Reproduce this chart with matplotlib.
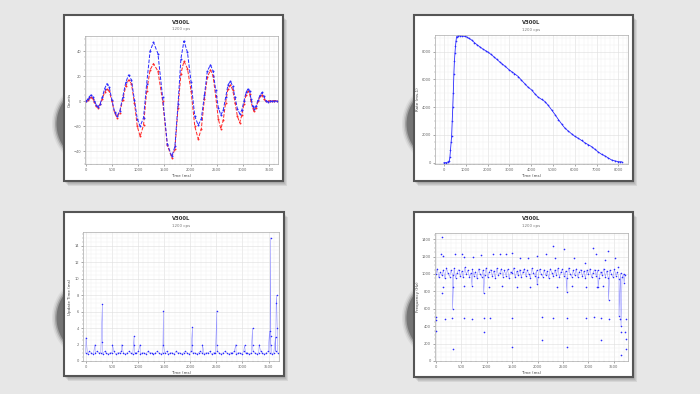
import numpy as np
import matplotlib.pyplot as plt
from matplotlib.patches import Rectangle, Circle
from matplotlib.ticker import MultipleLocator, AutoMinorLocator

# ---- panel 1: counts vs time ----
wave_t = [0, 30, 60, 95, 130, 160, 195, 228, 270, 310, 355, 400, 445, 495, 545, 590,
          645, 700, 760, 813, 868, 925, 980, 1035, 1100, 1160, 1225, 1290, 1375, 1465,
          1555, 1640, 1700, 1760, 1815, 1873, 1940, 2010, 2080, 2146, 2205, 2265, 2320,
          2380, 2430, 2480, 2530, 2578, 2625, 2670, 2715, 2762, 2805, 2850, 2895, 2940,
          2980, 3020, 3060, 3100, 3130, 3155, 3185, 3213, 3250, 3290, 3330, 3366, 3400,
          3440, 3480, 3520, 3560, 3600, 3650]
wave_blue = [0, 1.5, 3.5, 5, 3.5, 0.5, -3, -4.5, -2, 3, 10, 14, 11, 1, -8.5, -12,
             -8, 3, 15, 21, 17, 1, -14, -20, -13, 14, 40, 47, 38, 3,
             -34, -44, -36, -2, 34, 48, 39, 15, -12, -19, -14, 5, 24,
             29, 24, 9, -5, -11, -7, 3, 13, 16, 12, 3, -6, -10,
             -7, 0, 7, 10, 8, 2, -3.5, -6, -4, 1, 5, 7, 4,
             0.5, -0.5, 0, 0, 0.5, 0]
wave_red = [0, 1, 2.5, 3, 2, -0.5, -4, -5, -2.5, 2, 7, 10, 8, 0, -9, -13,
            -9, 1, 12, 17, 14, -1, -20, -28, -19, 8, 25, 30, 24, 0,
            -35, -45, -38, -5, 22, 32, 26, 8, -20, -30, -22, 2, 19,
            25, 20, 4, -14, -22, -15, -1, 10, 13, 9, -1, -12, -17,
            -11, -2, 5, 8, 6, 0, -5, -8, -5, 0, 4, 5, 2,
            0, 0, 0.5, 0.5, 0.5, 0.5]

# ---- panel 2: rate vs time ----
rate_t = [0, 100, 200, 250, 275, 300, 330, 352, 380, 405, 428, 455, 480, 505, 530, 555,
          581, 650, 750, 850, 950, 1040, 1150, 1269, 1400, 1530, 1660, 1790, 1910, 2034,
          2160, 2290, 2420, 2550, 2680, 2800, 2997, 3100, 3230, 3410, 3550, 3700, 3850,
          4021, 4170, 4327, 4480, 4633, 4780, 4939, 5100, 5250, 5400, 5550, 5700, 5850,
          6000, 6162, 6310, 6470, 6620, 6774, 6930, 7080, 7230, 7385, 7540, 7691, 7850,
          7997, 8080, 8150]
rate_v = [0, 0, 60, 150, 430, 900, 1500, 1900, 3000, 4000, 5000, 6400, 7300, 7900, 8400, 8800,
          9080, 9150, 9140, 9120, 9100, 9060, 8950, 8840, 8650, 8480, 8330, 8180, 8070, 7950,
          7800, 7630, 7450, 7270, 7100, 6950, 6680, 6560, 6420, 6200, 5950, 5700, 5450,
          5240, 4960, 4710, 4560, 4400, 4130, 3800, 3450, 3100, 2780, 2480, 2280, 2080,
          1900, 1750, 1600, 1420, 1290, 1150, 950, 760, 600, 480, 330, 190, 120,
          70, 60, 60]

# ---- panel 3: update time ----
upd_base = [1.0, 0.83, 1.17, 1.0, 0.83, 1.0, 1.17, 1.0, 1.0, 0.83,
            1.17, 1.0, 0.83, 1.0, 1.0, 1.17, 0.83, 1.0, 1.0, 1.17,
            1.0, 0.83, 1.0, 1.17, 1.0, 0.83, 1.0, 1.0, 1.17, 0.83,
            1.0, 1.0, 0.83, 1.17, 1.0, 1.0, 0.83, 1.0, 1.17, 1.0,
            0.83, 1.0, 1.0, 1.17, 0.83, 1.0, 1.0, 0.83, 1.17, 1.0,
            1.0, 0.83, 1.0, 1.17, 1.0, 0.83, 1.17, 1.0, 1.0, 0.83,
            1.0, 1.17, 1.0, 0.83, 1.0, 1.0, 1.17, 0.83, 1.0, 1.0,
            1.17, 1.0, 0.83, 1.0, 1.17, 1.0, 0.83, 1.0, 1.0, 1.17,
            0.83, 1.0, 1.0, 0.83, 1.17, 1.0, 1.0, 0.83, 1.0, 1.17,
            1.0, 0.83, 1.0, 1.17, 1.0, 0.83, 1.0, 1.17, 1.0, 0.83,
            1.0, 1.17, 1.0]
upd_base_t = np.arange(len(upd_base)) * 36
upd_spk_t = [6, 179, 319, 319, 511, 690, 926, 926, 1041, 1488, 1488, 2043, 2043, 2235,
             2510, 2510, 2874, 3040, 3193, 3193, 3321, 3519, 3538, 3544, 3544, 3634,
             3646, 3653, 3666]
upd_spk_v = [2.85, 2.0, 6.9, 2.3, 2.0, 2.0, 3.0, 2.0, 2.0, 6.1, 2.0, 4.1, 1.9, 2.0,
             6.1, 2.0, 2.0, 1.9, 4.0, 1.9, 2.0, 3.6, 15.0, 3.0, 2.0, 2.9,
             7.0, 8.0, 4.0]

# ---- panel 4: frequency ----
freq_band = [1000, 1060, 960, 1020, 985, 1045, 950, 1070, 1005, 970,
             1040, 990, 1065, 955, 1015, 1050, 975, 1030, 960, 1075,
             995, 1040, 965, 1010, 1055, 980, 1025, 950, 1060, 1000,
             970, 1045, 985, 1070, 960, 1020, 1050, 975, 1035, 955,
             1065, 990, 1015, 1060, 970, 1040, 980, 1055, 950, 1025,
             1005, 1070, 960, 1030, 985, 1050, 965, 1020, 1060, 975,
             1045, 995, 955, 1065, 1010, 980, 1040, 960, 1055, 1000,
             970, 1050, 985, 1030, 950, 1060, 1015, 975, 1045, 990,
             1065, 960, 1025, 1055, 980, 1035, 955, 1070, 1000, 970,
             1040, 985, 1060, 965, 1020, 1050, 975, 1030, 950, 1045,
             995, 1060, 960, 1015, 1050, 980, 1040, 955, 1025, 990,
             1060, 970, 1035, 950, 1045, 1000, 965, 1055, 980, 1020,
             940, 1010, 960, 1000, 990]
freq_band_t = np.arange(len(freq_band)) * 30
freq_dip_t = [330, 712, 943, 1990, 2578, 3190, 3395, 3600, 3640, 3700]
freq_dip_v = [596, 865, 777, 880, 788, 850, 700, 520, 400, 900]
freq_out_t = [7, 13, 13, 119, 105, 152, 119, 185, 330, 316, 382, 514, 547, 547, 725, 712,
              890, 943, 943, 1061, 1127, 1259, 1371, 1503, 1503, 1503, 1655, 1819, 1984,
              2083, 2083, 2162, 2294, 2294, 2347, 2512, 2578, 2578, 2722, 2940, 2953, 3098,
              3151, 3105, 3250, 3250, 3382, 3329, 3395, 3527, 3580, 3612, 3632, 3645, 3711,
              3744, 3744, 3744, 150, 345, 545, 1040, 1300, 1600, 1855, 2380, 2670, 2960,
              3160, 3290]
freq_out_v = [342, 508, 469, 1419, 1227, 1211, 777, 488, 143, 496, 1231, 1227, 1200, 496,
              1200, 488, 1219, 335, 496, 496, 1227, 1227, 1227, 1238, 161, 496, 1188, 1181,
              1211, 508, 238, 1227, 1315, 496, 1188, 1285, 161, 496, 1181, 1123, 496, 1296,
              1227, 508, 238, 496, 1265, 1161, 488, 1181, 1085, 488, 335, 73, 335,
              488, 258, 135, 855, 850, 860, 845, 858, 852, 848, 855, 862, 850,
              846, 858]

W, H = 700, 394
fig = plt.figure(figsize=(7, 3.94), dpi=100)
bg = fig.add_axes([0, 0, 1, 1])
bg.set_xlim(0, W)
bg.set_ylim(H, 0)
bg.axis('off')
bg.add_patch(Rectangle((0, 0), W, H, color='#e7e7e7'))

# dark blobs peeking out behind the cards
for cx, cy in [(96, 124), (446, 124), (96, 318), (446, 318)]:
    for r, a in [(44, 0.08), (42.5, 0.15), (41, 0.3), (39.5, 0.55)]:
        bg.add_patch(Circle((cx, cy), r, color='#505050', alpha=a, lw=0))

cards = [(64, 15, 283, 181), (414, 15, 633, 181), (64, 212, 284, 376), (414, 212, 633, 377)]
for l, t, r, b in cards:
    for k in range(1, 6):
        bg.add_patch(Rectangle((l + k * 0.7, t + k * 0.9), r - l, b - t,
                               color='black', alpha=0.07, lw=0))
    bg.add_patch(Rectangle((l, t), r - l, b - t, facecolor='white',
                           edgecolor='#555555', lw=1.5))


def px_axes(l, t, r, b):
    return fig.add_axes([l / W, 1 - b / H, (r - l) / W, (b - t) / H])


def style(ax, xlim, ylim, xmaj, ymaj, ylabel):
    ax.set_xlim(*xlim)
    ax.set_ylim(*ylim)
    ax.xaxis.set_major_locator(MultipleLocator(xmaj))
    ax.yaxis.set_major_locator(MultipleLocator(ymaj))
    ax.xaxis.set_minor_locator(AutoMinorLocator(5))
    ax.yaxis.set_minor_locator(AutoMinorLocator(4))
    ax.set_axisbelow(True)
    ax.grid(which='major', color='#dedede', lw=0.4)
    ax.grid(which='minor', color='#f0f0f0', lw=0.3)
    ax.tick_params(labelsize=2.6, length=1.6, width=0.4, colors='#666', pad=1.2)
    ax.tick_params(which='minor', length=0.8, width=0.3, colors='#888')
    for s in ax.spines.values():
        s.set_color('#aaaaaa')
        s.set_linewidth(0.5)
    ax.set_xlabel('Time (ms)', fontsize=2.9, labelpad=1.3, color='#444')
    ax.set_ylabel(ylabel, fontsize=2.9, labelpad=1.5, color='#444')


def titles(ax_l, ax_r, y):
    cx = (ax_l + ax_r) / 2 / W
    fig.text(cx, 1 - y / H, 'V300L', ha='center', va='center', fontsize=3.8,
             fontweight='bold', color='#333')
    fig.text(cx, 1 - (y + 7) / H, '1200 cps', ha='center', va='center',
             fontsize=2.9, color='#777')


blue = '#2a2aff'
red = '#ff2626'

ax1 = px_axes(85, 36, 278, 164)
ax1.plot(wave_t, wave_red, color=red, ls='--', lw=0.7, marker='o', ms=1.4, mew=0)
ax1.plot(wave_t, wave_blue, color=blue, ls='--', lw=0.7, marker='o', ms=1.4, mew=0)
style(ax1, (-20, 3672), (-50, 52), 500, 20, 'Counts')
titles(85, 278, 22)

ax2 = px_axes(435, 35, 628, 164)
ax2.plot(rate_t, rate_v, color=blue, lw=0.6, marker='o', ms=1.2, mew=0)
style(ax2, (-410, 8440), (-100, 9200), 1000, 2000, 'Rate (ms-1)')
titles(435, 628, 23)

ax3 = px_axes(83, 232, 279, 361)
ut = np.concatenate([upd_base_t, upd_spk_t])
uv = np.concatenate([upd_base, upd_spk_v])
o = np.argsort(ut, kind='stable')
ax3.plot(ut[o], uv[o], color='#8c8cff', lw=0.35)
ax3.plot(ut[o], uv[o], ls='none', color=blue, marker='o', ms=1.1, mew=0)
style(ax3, (-52, 3700), (0, 15.7), 500, 2, 'Update Time (ms)')
titles(83, 279, 219)

ax4 = px_axes(435, 233, 628, 361)
ft = np.concatenate([freq_band_t, freq_dip_t])
fv = np.concatenate([freq_band, freq_dip_v])
o = np.argsort(ft, kind='stable')
ax4.plot(ft[o], fv[o], color='#8c8cff', lw=0.35)
ax4.plot(ft[o], fv[o], ls='none', color=blue, marker='o', ms=1.1, mew=0)
ax4.plot(freq_out_t, freq_out_v, ls='none', color=blue, marker='o', ms=1.2, mew=0)
style(ax4, (-15, 3777), (0, 1470), 500, 200, 'Frequency (Hz)')
titles(435, 628, 219)

fig.savefig('out.png', dpi=100)
